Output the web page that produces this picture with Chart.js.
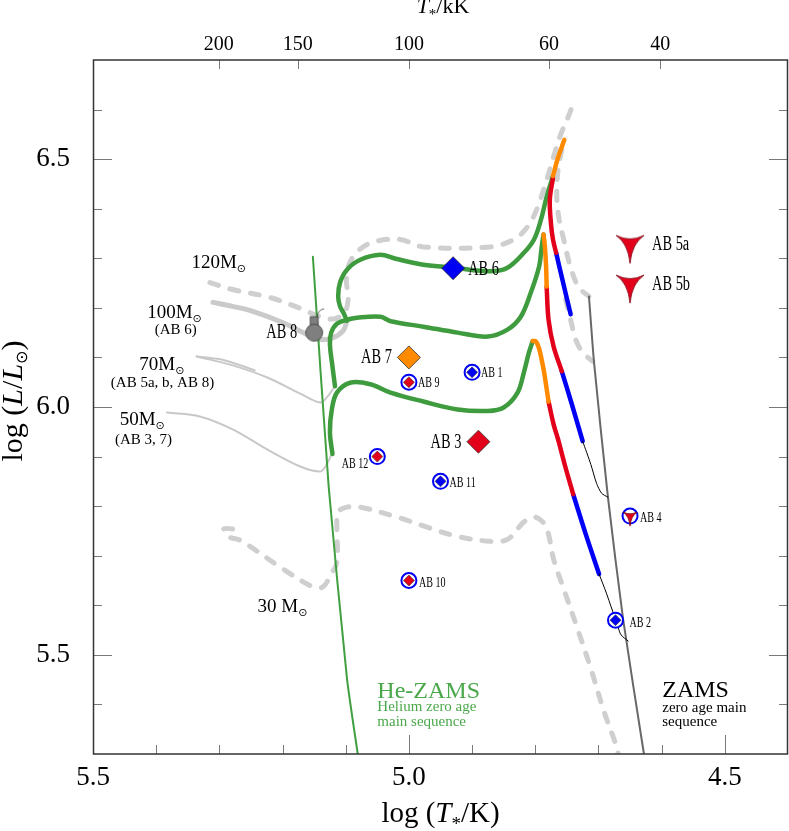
<!DOCTYPE html>
<html>
<head>
<meta charset="utf-8">
<script src="https://cdn.jsdelivr.net/npm/chart.js@4"></script>
<style>
  html, body { margin: 0; padding: 0; background: #fff; }
  #wrap { width: 789px; height: 831px; }
</style>
</head>
<body>
<div id="wrap"><canvas id="hrd" width="789" height="831"></canvas></div>
<script>
// top axis, stellar temperature in kK
const topTempsK = [200, 150, 100, 60, 40];

// observed stars
const starNames = ['AB 1', 'AB 2', 'AB 3', 'AB 4', 'AB 5a', 'AB 5b', 'AB 6', 'AB 7', 'AB 8', 'AB 9', 'AB 10', 'AB 11', 'AB 12'];
const starLogT  = [4.90, 4.673, 4.89, 4.65, 4.65, 4.65, 4.93, 5.00, 5.15, 5.00, 5.00, 4.95, 5.05];
const starLogL  = [6.07, 5.57, 5.93, 5.78, 6.33, 6.25, 6.28, 6.10, 6.15, 6.05, 5.65, 5.85, 5.90];

// reference lines, [log T, log L]
const heZams = [[5.152, 6.303], [5.127, 5.840], [5.098, 5.452], [5.081, 5.300]];
const zams = [[4.715, 6.223], [4.707, 6.090], [4.685, 5.818], [4.661, 5.572], [4.628, 5.300]];

// grey tracks
const track120 = [[5.315, 6.251], [5.279, 6.237], [5.220, 6.221], [5.172, 6.199], [5.140, 6.182], [5.117, 6.178],
  [5.101, 6.193], [5.096, 6.221], [5.099, 6.257], [5.093, 6.293], [5.077, 6.319], [5.053, 6.334], [5.014, 6.338],
  [4.977, 6.323], [4.871, 6.323], [4.834, 6.338], [4.812, 6.364], [4.796, 6.404], [4.782, 6.458], [4.771, 6.505],
  [4.760, 6.549], [4.748, 6.585], [4.739, 6.615]];
const track120Back = [[4.758, 6.519], [4.764, 6.478], [4.766, 6.428], [4.763, 6.384], [4.755, 6.338], [4.744, 6.281],
  [4.731, 6.241], [4.715, 6.223]];
const track120Ms = [[4.752, 6.217], [4.744, 6.176], [4.736, 6.136], [4.725, 6.110], [4.709, 6.092]];
const track100Pre = [[5.310, 6.211], [5.279, 6.203], [5.247, 6.193], [5.199, 6.170], [5.161, 6.146], [5.140, 6.136],
  [5.120, 6.140], [5.104, 6.154], [5.098, 6.174]];
const track70Pre = [[5.336, 6.102], [5.279, 6.084], [5.225, 6.060], [5.172, 6.027], [5.140, 6.009], [5.129, 6.021], [5.118, 6.040]];
const track70PreB = [[5.336, 6.102], [5.291, 6.094], [5.244, 6.074]];
const track50Pre = [[5.383, 5.989], [5.331, 5.981], [5.279, 5.955], [5.225, 5.915], [5.172, 5.880], [5.140, 5.870],
  [5.131, 5.882], [5.123, 5.903]];
const track30 = [[5.279, 5.754], [5.293, 5.754], [5.287, 5.739], [5.267, 5.731], [5.199, 5.673], [5.152, 5.637],
  [5.136, 5.637], [5.125, 5.659], [5.114, 5.687], [5.114, 5.754], [5.112, 5.788], [5.098, 5.798], [5.077, 5.798],
  [5.014, 5.776], [4.977, 5.760], [4.923, 5.739], [4.871, 5.729], [4.844, 5.733], [4.818, 5.768], [4.802, 5.778],
  [4.788, 5.768], [4.780, 5.748], [4.771, 5.693], [4.755, 5.633], [4.733, 5.552], [4.712, 5.472], [4.691, 5.385],
  [4.672, 5.317], [4.667, 5.290]];

// binary tracks: green, then orange / red / blue phases, thin black to the ZAMS
const green100 = [[5.098, 6.174], [5.104, 6.191], [5.109, 6.203], [5.112, 6.223], [5.109, 6.251], [5.098, 6.277],
  [5.077, 6.297], [5.045, 6.307], [5.021, 6.299], [4.977, 6.287], [4.929, 6.281], [4.871, 6.274], [4.844, 6.281],
  [4.818, 6.311], [4.802, 6.338], [4.791, 6.378], [4.782, 6.424], [4.772, 6.466]];
const orange100 = [[4.772, 6.466], [4.764, 6.503], [4.754, 6.539]];
const red100 = [[4.772, 6.462], [4.777, 6.418], [4.775, 6.368], [4.772, 6.338], [4.767, 6.311]];
const blue100 = [[4.767, 6.311], [4.756, 6.251], [4.744, 6.187]];

const green70 = [[5.117, 6.042], [5.121, 6.082], [5.125, 6.126], [5.123, 6.150], [5.114, 6.168], [5.098, 6.176],
  [5.082, 6.180], [5.045, 6.182], [5.029, 6.173], [4.977, 6.162], [4.923, 6.150], [4.875, 6.142], [4.844, 6.156],
  [4.823, 6.182], [4.807, 6.231], [4.794, 6.283], [4.790, 6.321], [4.787, 6.348]];
const orange70 = [[4.787, 6.348], [4.785, 6.327], [4.783, 6.287], [4.782, 6.243]];
const red70 = [[4.782, 6.243], [4.779, 6.176], [4.771, 6.122], [4.758, 6.072]];
const blue70 = [[4.758, 6.072], [4.742, 6.005], [4.725, 5.931]];
const black70 = [[4.725, 5.931], [4.712, 5.884], [4.703, 5.846], [4.695, 5.826], [4.685, 5.818]];

const green50 = [[5.121, 5.905], [5.125, 5.949], [5.122, 5.995], [5.114, 6.029], [5.093, 6.049], [5.061, 6.046],
  [5.029, 6.029], [4.977, 6.011], [4.923, 5.995], [4.875, 5.992], [4.850, 5.999], [4.828, 6.029], [4.818, 6.070],
  [4.810, 6.110], [4.804, 6.133]];
const orange50 = [[4.804, 6.133], [4.799, 6.132], [4.794, 6.118], [4.790, 6.096], [4.786, 6.070], [4.779, 6.011]];
const red50 = [[4.779, 6.011], [4.771, 5.965], [4.764, 5.935], [4.753, 5.882], [4.740, 5.824]];
const blue50 = [[4.740, 5.824], [4.720, 5.743], [4.699, 5.663]];
const black50 = [[4.699, 5.663], [4.687, 5.623], [4.680, 5.597], [4.673, 5.572], [4.669, 5.556], [4.664, 5.540], [4.653, 5.528]];

// text annotations (label, log T, log L)
const massLabels = [
  ['120', 5.301, 6.281], ['100', 5.371, 6.180], ['70', 5.391, 6.074], ['50', 5.422, 5.963], ['30 ', 5.200, 5.586]
];
const massNotes = [['(AB 6)', 5.369, 6.148], ['(AB 5a, b, AB 8)', 5.390, 6.040], ['(AB 3, 7)', 5.420, 5.925]];

const GREEN = '#3e9b3e', RED = '#e3001b', BLUE = '#0000f5', ORANGE = '#ff8a00';
const SERIF = '"Liberation Serif", "Times New Roman", serif';

// marker looks and label offsets (px)
const bigDiamonds = { 'AB 6': BLUE, 'AB 7': ORANGE, 'AB 3': RED };
const ringed = { 'AB 1': BLUE, 'AB 2': BLUE, 'AB 9': RED, 'AB 10': RED, 'AB 11': BLUE, 'AB 12': RED };
const labelStyle = {
  'AB 6': [15, 7, 'left', 1], 'AB 7': [-17, 6, 'right', 1], 'AB 3': [-17, 6, 'right', 1], 'AB 8': [-17, 5, 'right', 1],
  'AB 5a': [22, 7, 'left', 1], 'AB 5b': [22, 7, 'left', 1],
  'AB 1': [9, 5, 'left', 0], 'AB 9': [9, 5, 'left', 0], 'AB 11': [9, 6, 'left', 0], 'AB 12': [-9, 11, 'right', 0],
  'AB 10': [10, 6, 'left', 0], 'AB 4': [10, 6, 'left', 0], 'AB 2': [14, 7, 'left', 0]
};

const xy = pts => pts.map(([x, y]) => ({ x, y }));
const starXY = n => { const i = starNames.indexOf(n); return { x: starLogT[i], y: starLogL[i] }; };

function yStar(s) {
  const c = document.createElement('canvas');
  const w = Math.ceil(44 * s) + 4;
  c.width = w; c.height = w;
  const g = c.getContext('2d');
  g.translate(w / 2, w / 2);
  g.scale(s, s);
  g.beginPath();
  g.moveTo(-14, -8);
  g.quadraticCurveTo(0, -1, 14, -8);
  g.quadraticCurveTo(2, 0, 0, 20);
  g.quadraticCurveTo(-2, 0, -14, -8);
  g.closePath();
  g.fillStyle = RED;
  g.fill();
  g.lineWidth = 0.8 / s;
  g.strokeStyle = '#7a0010';
  g.stroke();
  return c;
}

function bomb() {
  const c = document.createElement('canvas');
  c.width = 30; c.height = 56;
  const g = c.getContext('2d');
  g.translate(15, 28);
  g.fillStyle = '#7f7f7f';
  g.strokeStyle = '#404040';
  g.lineWidth = 0.8;
  g.fillRect(-4, -16, 8, 9);
  g.strokeRect(-4, -16, 8, 9);
  g.beginPath();
  g.arc(0, 0, 8.5, 0, Math.PI * 2);
  g.fill();
  g.stroke();
  g.beginPath();
  g.moveTo(3, -16);
  g.quadraticCurveTo(4, -23, 10, -24);
  g.stroke();
  return c;
}

function line(pts, color, width, order, extra) {
  return Object.assign({
    data: xy(pts), showLine: true, borderColor: color, borderWidth: width, pointRadius: 0,
    tension: 0.35, order: order, borderCapStyle: 'round', borderJoinStyle: 'round', fill: false
  }, extra || {});
}

const dashed = { borderDash: [9, 12] };
const bigNames = Object.keys(bigDiamonds);
const ringNames = Object.keys(ringed);

const datasets = [
  // markers
  { data: bigNames.map(starXY), pointStyle: 'rectRot', pointRadius: 11.5, backgroundColor: bigNames.map(n => bigDiamonds[n]),
    borderColor: '#333', borderWidth: 0.8, order: 0 },
  { data: ringNames.map(starXY), pointStyle: 'rectRot', pointRadius: 5.5, backgroundColor: ringNames.map(n => ringed[n]),
    borderColor: '#333', borderWidth: 0.6, order: 1 },
  { data: ['AB 4'].map(starXY), pointStyle: yStar(0.5), order: 1 },
  { data: ringNames.concat(['AB 4']).map(starXY), pointStyle: 'circle', pointRadius: 7.5, backgroundColor: '#fff',
    borderColor: BLUE, borderWidth: 2, order: 2 },
  { data: ['AB 5a', 'AB 5b'].map(starXY), pointStyle: yStar(1), order: 1 },
  { data: ['AB 8'].map(starXY), pointStyle: bomb(), order: 1 },

  // coloured phases
  line(black70, '#000', 1, 5, { tension: 0.25 }), line(black50, '#000', 1, 5),
  line(orange100, ORANGE, 4.5, 6), line(red100, RED, 4.5, 6), line(blue100, BLUE, 4.5, 6),
  line(orange70, ORANGE, 4.5, 6), line(red70, RED, 4.5, 6), line(blue70, BLUE, 4.5, 6),
  line(orange50, ORANGE, 4.5, 6), line(red50, RED, 4.5, 6), line(blue50, BLUE, 4.5, 6),
  line(green100, GREEN, 4.5, 7), line(green70, GREEN, 4.5, 7), line(green50, GREEN, 4.5, 7),

  // ZAMS lines
  line(heZams, '#40a040', 2, 8, { tension: 0.2 }),
  line(zams, '#686868', 2, 8, { tension: 0.2 }),

  // grey tracks
  line(track120, '#cfcfcf', 5, 9, dashed),
  line(track120Back, '#cfcfcf', 5, 9, dashed),
  line(track120Ms, '#cfcfcf', 5, 9, dashed),
  line(track30, '#cfcfcf', 5, 9, dashed),
  line(track100Pre, '#cacaca', 5, 10),
  line(track70Pre, '#c8c8c8', 2, 10),
  line(track70PreB, '#c8c8c8', 2, 10),
  line(track50Pre, '#c8c8c8', 2, 10)
];

function rich(ctx, parts, x, y, align) {
  let w = 0;
  parts.forEach(p => { ctx.font = p[1]; p.w = ctx.measureText(p[0]).width; w += p.w; });
  let cx = align === 'center' ? x - w / 2 : (align === 'right' ? x - w : x);
  ctx.textAlign = 'left';
  ctx.textBaseline = 'alphabetic';
  parts.forEach(p => { ctx.font = p[1]; ctx.fillText(p[0], cx, y + (p[2] || 0)); cx += p.w; });
}

function narrow(ctx, text, x, y, size, align, sx) {
  ctx.save();
  ctx.font = size + 'px ' + SERIF;
  ctx.textAlign = align;
  ctx.textBaseline = 'alphabetic';
  ctx.translate(x, y);
  ctx.scale(sx, 1);
  ctx.fillText(text, 0, 0);
  ctx.restore();
}

const SUN = '"DejaVu Sans", sans-serif';

const decor = {
  id: 'decor',
  afterDatasetsDraw(chart) {
    const ctx = chart.ctx, xs = chart.scales.x, ys = chart.scales.y;
    const px = v => xs.getPixelForValue(v), py = v => ys.getPixelForValue(v);
    ctx.save();
    ctx.fillStyle = '#000';

    // star labels
    starNames.forEach(n => {
      const s = labelStyle[n], p = starXY(n);
      narrow(ctx, n, px(p.x) + s[0], py(p.y) + s[1], s[3] ? 20 : 14, s[2], 0.72);
    });

    // mass labels
    massLabels.forEach(([t, x, y]) => {
      rich(ctx, [[t + 'M', '19px ' + SERIF], ['\u2299', '11px ' + SUN, 4]], px(x), py(y), 'center');
    });
    massNotes.forEach(([t, x, y]) => rich(ctx, [[t, '15px ' + SERIF]], px(x), py(y), 'center'));

    // He-ZAMS / ZAMS notes
    ctx.fillStyle = '#4aa84a';
    rich(ctx, [['He-ZAMS', '24px ' + SERIF]], px(5.05), py(5.413), 'left');
    rich(ctx, [['Helium zero age', '15px ' + SERIF]], px(5.05), py(5.387), 'left');
    rich(ctx, [['main sequence', '15px ' + SERIF]], px(5.05), py(5.357), 'left');
    ctx.fillStyle = '#000';
    rich(ctx, [['ZAMS', '24px ' + SERIF]], px(4.599), py(5.415), 'left');
    rich(ctx, [['zero age main', '15px ' + SERIF]], px(4.599), py(5.385), 'left');
    rich(ctx, [['sequence', '15px ' + SERIF]], px(4.599), py(5.357), 'left');
    ctx.restore();
  },
  afterDraw(chart) {
    const ctx = chart.ctx, a = chart.chartArea;
    const xs = chart.scales.x, ys = chart.scales.y, xt = chart.scales.x2;
    ctx.save();
    ctx.strokeStyle = '#7a7a7a';
    ctx.lineWidth = 1;
    ctx.beginPath();
    for (let i = 45; i < 55; i++) {
      const v = i / 10, x = Math.round(xs.getPixelForValue(v)) + 0.5;
      const len = i % 5 === 0 ? 19 : 9;
      ctx.moveTo(x, a.bottom); ctx.lineTo(x, a.bottom - len);
    }
    for (let i = 54; i < 67; i++) {
      const v = i / 10, y = Math.round(ys.getPixelForValue(v)) + 0.5;
      const len = i % 5 === 0 ? 19 : 9;
      ctx.moveTo(a.left, y); ctx.lineTo(a.left + len, y);
      ctx.moveTo(a.right, y); ctx.lineTo(a.right - len, y);
    }
    topTempsK.forEach(t => {
      const x = Math.round(xt.getPixelForValue(Math.log10(t * 1000))) + 0.5;
      ctx.moveTo(x, a.top); ctx.lineTo(x, a.top + 9);
    });
    ctx.stroke();

    ctx.strokeStyle = '#333';
    ctx.lineWidth = 1.5;
    ctx.strokeRect(a.left + 0.5, a.top, a.right - a.left - 1, a.bottom - a.top);

    // axis titles
    ctx.fillStyle = '#000';
    const f = (s, it) => (it ? 'italic ' : '') + s + 'px ' + SERIF;
    rich(ctx, [['log (', f(29)], ['T', f(29, 1)], ['*', f(19), 8], ['/K)', f(29)]], (a.left + a.right) / 2, 822, 'center');
    rich(ctx, [['T', f(22, 1)], ['*', f(15), 6], ['/kK', f(22)]], 443, 13, 'center');
    ctx.translate(22, (a.top + a.bottom) / 2 - 6);
    ctx.rotate(-Math.PI / 2);
    rich(ctx, [['log (', f(30)], ['L', f(30, 1)], ['/', f(30)], ['L', f(30, 1)], ['\u2299', '16px ' + SUN, 5], [')', f(30)]], 0, 0, 'center');
    ctx.restore();
  }
};

const axisFont = { family: SERIF, size: 27 };
const noPad = s => { s.paddingLeft = 0; s.paddingRight = 0; s.paddingTop = 0; s.paddingBottom = 0; };

new Chart(document.getElementById('hrd'), {
  type: 'scatter',
  data: { datasets },
  options: {
    responsive: false,
    animation: false,
    events: [],
    layout: { autoPadding: false, padding: { left: 0, right: 1, top: 0, bottom: 0 } },
    plugins: { legend: { display: false }, tooltip: { enabled: false } },
    scales: {
      x: {
        type: 'linear', position: 'bottom', min: 4.4, max: 5.5, reverse: true,
        grid: { display: false, drawTicks: false }, border: { display: false },
        ticks: {
          stepSize: 0.1, autoSkip: false, maxRotation: 0, padding: 8, color: '#000', font: axisFont,
          callback: v => Math.abs(v * 2 - Math.round(v * 2)) < 1e-6 && v < 5.55 && v > 4.45 ? v.toFixed(1) : ''
        },
        afterFit: s => { s.height = 77; noPad(s); }
      },
      x2: {
        type: 'linear', position: 'top', min: 4.4, max: 5.5, reverse: true,
        grid: { display: false, drawTicks: false }, border: { display: false },
        afterBuildTicks: s => { s.ticks = topTempsK.map(t => ({ value: Math.log10(t * 1000) })); },
        ticks: {
          autoSkip: false, maxRotation: 0, padding: 3, color: '#000', font: { family: SERIF, size: 20 },
          callback: v => String(Math.round(Math.pow(10, v) / 1000))
        },
        afterFit: s => { s.height = 60; noPad(s); }
      },
      y: {
        type: 'linear', position: 'left', min: 5.3, max: 6.7,
        grid: { display: false, drawTicks: false }, border: { display: false },
        ticks: {
          stepSize: 0.1, autoSkip: false, padding: 23, color: '#000', font: axisFont,
          callback: v => Math.abs(v * 2 - Math.round(v * 2)) < 1e-6 ? v.toFixed(1) : ''
        },
        afterFit: s => { s.width = 93; noPad(s); }
      }
    }
  },
  plugins: [decor]
});
</script>
</body>
</html>
